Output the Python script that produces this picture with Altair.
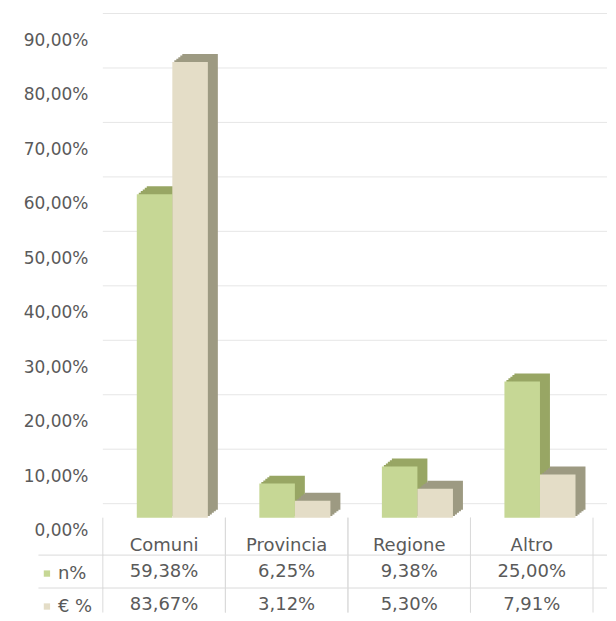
import altair as alt
import pandas as pd

categories = ["Comuni", "Provincia", "Regione", "Altro"]
series = ["n%", "€ %"]
n_pct = [59.38, 6.25, 9.38, 25.00]
eur_pct = [83.67, 3.12, 5.30, 7.91]
y_ticks = [0, 10, 20, 30, 40, 50, 60, 70, 80, 90]

front_colors = ["#c6d795", "#e4ddc7"]
side_colors = ["#98a664", "#9d9a82"]

rows = []
for si, (s, vals) in enumerate(zip(series, [n_pct, eur_pct])):
    for ci, (c, v) in enumerate(zip(categories, vals)):
        rows.append({"cat": c, "idx": ci, "serie": s, "sidx": si, "value": v})
df = pd.DataFrame(rows)
grid_df = pd.DataFrame({"t": y_ticks})
cat_df = pd.DataFrame({"cat": categories, "idx": list(range(len(categories))),
                       "row": ["cat"] * len(categories)})
row_df = pd.DataFrame({"row": series})

FONT = "DejaVu Sans"
TXT = "#5a5a5a"
LINE = "#dadada"
W = 505
STEP = 122.75
x_scale = alt.Scale(domain=[0, W / STEP], nice=False, zero=False)
y_scale = alt.Scale(domain=[0, 90], nice=False)

grid = alt.Chart(grid_df).mark_rule(color="#e6e6e6", strokeWidth=1, yOffset=-14).encode(
    y=alt.Y("t:Q", scale=y_scale, title=None,
            axis=alt.Axis(values=y_ticks, grid=False, ticks=False, domain=False,
                          labelExpr="replace(format(datum.value, '.2f'), '.', ',') + '%'",
                          labelFont=FONT, labelFontSize=17, labelColor=TXT,
                          labelPadding=15, labelOffset=13))
)

base = alt.Chart(df).transform_calculate(
    x0="datum.idx + 0.277 + datum.sidx * 0.29",
    x1="datum.idx + 0.277 + datum.sidx * 0.29 + 0.29",
)

layers = [grid]
for i, s in enumerate(series):
    sub = base.transform_filter(alt.datum.serie == s)
    for k in range(1, 6):
        layers.append(
            sub.mark_bar(color=side_colors[i], xOffset=2 * k, x2Offset=2 * k,
                         yOffset=-1.6 * k, y2Offset=-1.6 * k).encode(
                x=alt.X("x0:Q", scale=x_scale, axis=None), x2="x1:Q",
                y=alt.Y("value:Q", scale=y_scale), y2=alt.datum(0),
            )
        )
    layers.append(
        sub.mark_bar().encode(
            x=alt.X("x0:Q", scale=x_scale, axis=None), x2="x1:Q",
            y=alt.Y("value:Q", scale=y_scale), y2=alt.datum(0),
            color=alt.Color("serie:N", scale=alt.Scale(domain=series, range=front_colors),
                            legend=alt.Legend(title=None, orient="none", legendX=-65, legendY=538,
                                              symbolType="square", symbolSize=40,
                                              symbolStrokeWidth=0, rowPadding=15,
                                              labelFont=FONT, labelFontSize=18,
                                              labelColor=TXT, labelOffset=2)),
        )
    )

bars = alt.layer(*layers).properties(width=W, height=491)

row_domain = ["cat", "n%", "€ %"]
row_scale = alt.Scale(domain=row_domain, range=[4.5, 103.5], paddingInner=0, paddingOuter=0)
row_axis = alt.Axis(values=series, labels=False, domain=False, grid=False, orient="left",
                    ticks=True, tickSize=65, tickColor=LINE, tickOpacity=1, bandPosition=0)
y_tab = alt.Y("row:N", scale=row_scale, title=None, axis=row_axis)

tab_df = df.copy()
tab_df["row"] = tab_df["serie"]

hlines = alt.Chart(row_df).mark_rule(color=LINE).encode(
    y=alt.Y("row:N", scale=row_scale, bandPosition=0, title=None, axis=row_axis))
vlines0 = alt.Chart(cat_df).mark_rule(color=LINE).encode(
    x=alt.X("idx:Q", scale=x_scale, axis=None))
vlines1 = alt.Chart(cat_df).transform_calculate(e="datum.idx + 1").mark_rule(color=LINE).encode(
    x=alt.X("e:Q", scale=x_scale, axis=None))

cat_text = alt.Chart(cat_df).transform_calculate(c="datum.idx + 0.5").mark_text(
    font=FONT, fontSize=18, color=TXT, dy=7).encode(
    x=alt.X("c:Q", scale=x_scale, axis=None), y=y_tab, text="cat:N")
val_text = alt.Chart(tab_df).transform_calculate(
    lab="replace(format(datum.value, '.2f'), '.', ',') + '%'",
    c="datum.idx + 0.5",
).mark_text(font=FONT, fontSize=18, color=TXT, dy=0.5).encode(
    x=alt.X("c:Q", scale=x_scale, axis=None), y=y_tab, text="lab:N")

table = alt.layer(hlines, vlines0, vlines1, cat_text, val_text).properties(width=W, height=95)

chart = alt.vconcat(bars, table, spacing=0, bounds="flush").properties(
    padding={"left": 15, "top": 4, "right": 0, "bottom": 0},
    background="white",
).configure_view(stroke=None)

chart.save("out.html", embed_options={"renderer": "svg", "actions": False})
